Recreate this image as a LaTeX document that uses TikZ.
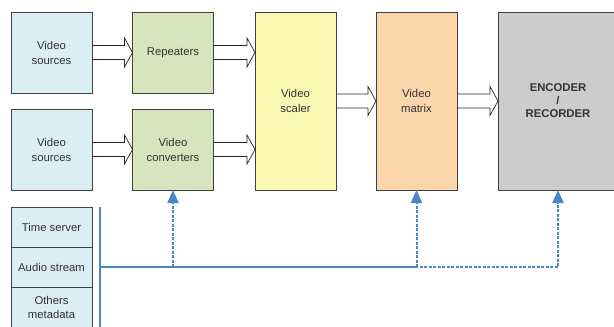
\documentclass[tikz,border=0pt]{standalone}
\usepackage{fontspec}
\setmainfont{Liberation Sans}
\usetikzlibrary{arrows.meta,calc}

\definecolor{srcblue}{HTML}{DAEEF3}
\definecolor{procgreen}{HTML}{D7E4BD}
\definecolor{scalyellow}{HTML}{F9F7B2}
\definecolor{mtxorange}{HTML}{FBD5AC}
\definecolor{encgray}{HTML}{CCCCCC}
\definecolor{busblue}{HTML}{4A86C8}
\definecolor{txtgray}{HTML}{333333}

% outlined block arrow from one box to the next, at the height of the first
\newcommand{\hollowarrow}[2]{%
  \draw[hollow] ($(#1.east)+(0,-7)$) -- ($(#1.east -| #2.west)+(-8,-7)$) -- ($(#1.east -| #2.west)+(-8,-14.5)$) -- (#1.east -| #2.west) -- ($(#1.east -| #2.west)+(-8,14.5)$) -- ($(#1.east -| #2.west)+(-8,7)$) -- ($(#1.east)+(0,7)$);}

\begin{document}
\begin{tikzpicture}[x=1pt, y=-1pt, every node/.style={font=\fontsize{11.3}{15}\selectfont, text=txtgray}, box/.style={draw=black!75, line width=0.8pt, minimum width=81pt, minimum height=81pt, align=center, inner sep=0pt, outer sep=0pt}, tall/.style={box, minimum height=178pt}, side/.style={box, fill=srcblue, minimum height=40pt}, hollow/.style={draw=black!85, line width=0.7pt, line join=miter}, bus/.style={busblue, line width=2pt}, tap/.style={bus, dash pattern=on 3pt off 1.5pt, -{Triangle[width=11pt, length=13pt]}}]
	\clip (0,0) rectangle (614,327);
	\node[box, fill=srcblue] (src1) at (51.5,52.5) {Video\\sources};
	\node[box, fill=srcblue] (src2) at (51.5,149.5) {Video\\sources};
	\node[box, fill=procgreen] (rep) at (173,52.5) {Repeaters};
	\node[box, fill=procgreen] (conv) at (173,149.5) {Video\\converters};
	\node[tall, fill=scalyellow] (scal) at (295.5,101) {Video\\scaler};
	\node[tall, fill=mtxorange] (mtx) at (416.5,101) {Video\\matrix};
	\node[tall, fill=encgray, minimum width=120pt, font=\fontsize{11.3}{13}\selectfont\bfseries] (enc) at (558,101) {ENCODER\\/\\RECORDER};
	\foreach \n/\y/\t in {time/227/Time server, audio/267/Audio stream, meta/307.5/{Others\\metadata}} {\node[side, font=\fontsize{11.3}{14}\selectfont] (\n) at (51.5,\y) {\t};}
	\hollowarrow{src1}{rep}
	\hollowarrow{src2}{conv}
	\hollowarrow{rep}{scal}
	\hollowarrow{conv}{scal}
	\hollowarrow{scal}{mtx}
	\hollowarrow{mtx}{enc}
	\coordinate (busTop) at (100,207);
	\coordinate (busBot) at (100,330);
	\coordinate (busL) at (100,267);
	\draw[bus] (busTop) -- (busBot);
	\draw[bus] (busL) -- (busL -| mtx.south);
	\draw[tap] (busL) -- (busL -| enc.south) -- (enc.south);
	\foreach \n in {conv, mtx} {\draw[tap] (busL -| \n.south) -- (\n.south);}
\end{tikzpicture}
\end{document}
